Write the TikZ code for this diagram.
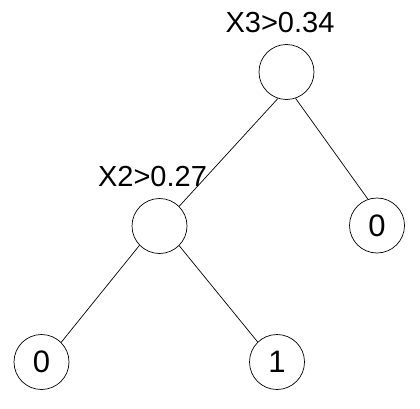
\documentclass[tikz,border=0pt]{standalone}
\usepackage{fontspec}
\setmainfont{Liberation Sans}
\usepackage{tikz}
\usetikzlibrary{positioning}

\begin{document}
\begin{tikzpicture}[
  x=1pt, y=1pt,
  split/.style={circle, draw=black, line width=0.7pt, inner sep=0pt,
                minimum size=55pt},
  leaf/.style={circle, draw=black, line width=0.7pt, inner sep=0pt,
               minimum size=55pt, font=\fontsize{31}{33}\selectfont},
  cond/.style={inner sep=0pt, font=\fontsize{29}{31}\selectfont},
  branch/.style={draw=black, line width=0.7pt},
]
\useasboundingbox (0,0) rectangle (420,408);

%% SPLIT NODES
\node[split] (root) at (286.5,336) {};
\node[split] (x2)   at (159.5,182) {};

%% CONDITIONS
\node[cond] (croot) at (280,385)   {X3>0.34};
\node[cond] (cx2)   at (152.5,231) {X2>0.27};

%% LEAVES
\node[leaf] (right) at (377,182.5) {0};
\node[leaf] (ll)    at (41.5,46)   {0};
\node[leaf] (lr)    at (277,46)    {1};

%% Branches
\draw[branch] (root.-108) -- (x2.45);
\draw[branch] (root.-71)  -- (right.109);
\draw[branch] (x2.-136)   -- (ll.45);
\draw[branch] (x2.-45)    -- (lr.134);

\end{tikzpicture}
\end{document}
